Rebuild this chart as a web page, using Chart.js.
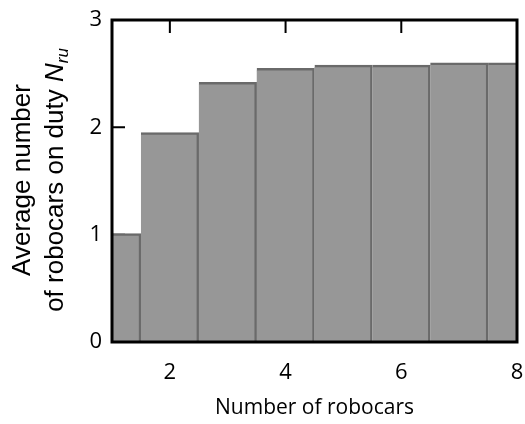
<!DOCTYPE html>
<html lang="en">
<head>
<meta charset="UTF-8">
<title>Robocars on duty</title>
<script src="https://cdn.jsdelivr.net/npm/chart.js@4.4.0/dist/chart.umd.min.js"></script>
<style>
	html, body { margin: 0; padding: 0; background: #fff; }
	#caja { width: 525px; height: 424px; }
</style>
</head>
<body>
	<div id="caja"><canvas id="pizarra"></canvas></div>

	<script>
		// datos
		const robocars = [1, 2, 3, 4, 5, 6, 7, 8]
		const onDuty = [1.01, 1.95, 2.42, 2.55, 2.58, 2.58, 2.6, 2.6]
		const xTicks = [2, 4, 6, 8]
		const yTicks = [0, 1, 2, 3]

		const fuenteTicks = { family: 'Open Sans', size: 22 }
		const fuenteTitulo = 'Liberation Sans'

		// marco negro con marcas hacia dentro
		const marco = {
			id: 'marco',
			beforeDatasetsDraw(chart) {
				const { ctx, chartArea: a, scales: { x, y } } = chart
				ctx.save()
				ctx.strokeStyle = '#000'
				ctx.lineWidth = 2
				ctx.beginPath()
				xTicks.forEach(v => {
					const px = x.getPixelForValue(v)
					ctx.moveTo(px, a.top); ctx.lineTo(px, a.top + 13)
					ctx.moveTo(px, a.bottom); ctx.lineTo(px, a.bottom - 13)
				})
				yTicks.forEach(v => {
					const py = y.getPixelForValue(v)
					ctx.moveTo(a.left, py); ctx.lineTo(a.left + 13, py)
					ctx.moveTo(a.right, py); ctx.lineTo(a.right - 13, py)
				})
				ctx.stroke()
				ctx.restore()
			},
			afterDatasetsDraw(chart) {
				const { ctx, chartArea: a } = chart
				ctx.save()
				ctx.strokeStyle = '#000'
				ctx.lineWidth = 3
				ctx.strokeRect(a.left, a.top, a.right - a.left, a.bottom - a.top)
				ctx.restore()
			},
			afterDraw(chart) {
				const { ctx } = chart
				const cy = 180
				ctx.save()
				ctx.rotate(-Math.PI / 2)
				ctx.fillStyle = '#000'
				ctx.textBaseline = 'alphabetic'

				// primera linea
				ctx.font = '26px "' + fuenteTitulo + '"'
				ctx.textAlign = 'center'
				ctx.fillText('Average number', -cy, 30)

				// segunda linea con N_ru
				ctx.textAlign = 'left'
				const t1 = 'of robocars on duty '
				const fNormal = '26px "' + fuenteTitulo + '"'
				const fItal = 'italic 26px "' + fuenteTitulo + '"'
				const fSub = 'italic 17px "' + fuenteTitulo + '"'
				ctx.font = fNormal; const w1 = ctx.measureText(t1).width
				ctx.font = fItal; const w2 = ctx.measureText('N').width
				ctx.font = fSub; const w3 = ctx.measureText('ru').width
				let u = -cy - (w1 + w2 + w3) / 2
				ctx.font = fNormal; ctx.fillText(t1, u, 63); u += w1
				ctx.font = fItal; ctx.fillText('N', u, 63); u += w2
				ctx.font = fSub; ctx.fillText('ru', u, 68)
				ctx.restore()
			}
		}

		const g = document.getElementById('pizarra')

		const myChart = new Chart(g, {
			type: 'bar',
			data: {
				datasets: [{
					data: robocars.map((r, i) => ({ x: r, y: onDuty[i] })),
					backgroundColor: '#979797',
					borderColor: '#6a6a6a',
					borderWidth: { top: 2.5, right: 2.5, left: 0, bottom: 0 },
					borderSkipped: false,
					barPercentage: 1,
					categoryPercentage: 1
				}]
			},
			options: {
				responsive: true,
				maintainAspectRatio: false,
				animation: false,
				layout: { padding: { top: 20, right: 8, left: 0, bottom: 0 } },
				plugins: { legend: { display: false }, tooltip: { enabled: false } },
				scales: {
					x: {
						type: 'linear',
						min: 1,
						max: 8,
						offset: false,
						afterBuildTicks: s => { s.ticks = xTicks.map(v => ({ value: v })) },
						afterFit: s => { s.height = 82; s.paddingLeft = 0; s.paddingRight = 0 },
						grid: { display: false, drawTicks: false },
						border: { display: false },
						ticks: { padding: 18, color: '#000', font: fuenteTicks },
						title: {
							display: true,
							text: 'Number of robocars',
							color: '#000',
							font: { family: 'Open Sans', size: 21 },
							padding: { top: 0, bottom: 3 }
						}
					},
					y: {
						min: 0,
						max: 3,
						afterBuildTicks: s => { s.ticks = yTicks.map(v => ({ value: v })) },
						afterFit: s => { s.width = 112; s.paddingTop = 0; s.paddingBottom = 0 },
						grid: { display: false, drawTicks: false },
						border: { display: false },
						ticks: { padding: 10, color: '#000', font: fuenteTicks }
					}
				}
			},
			plugins: [marco]
		})
	</script>
</body>
</html>
